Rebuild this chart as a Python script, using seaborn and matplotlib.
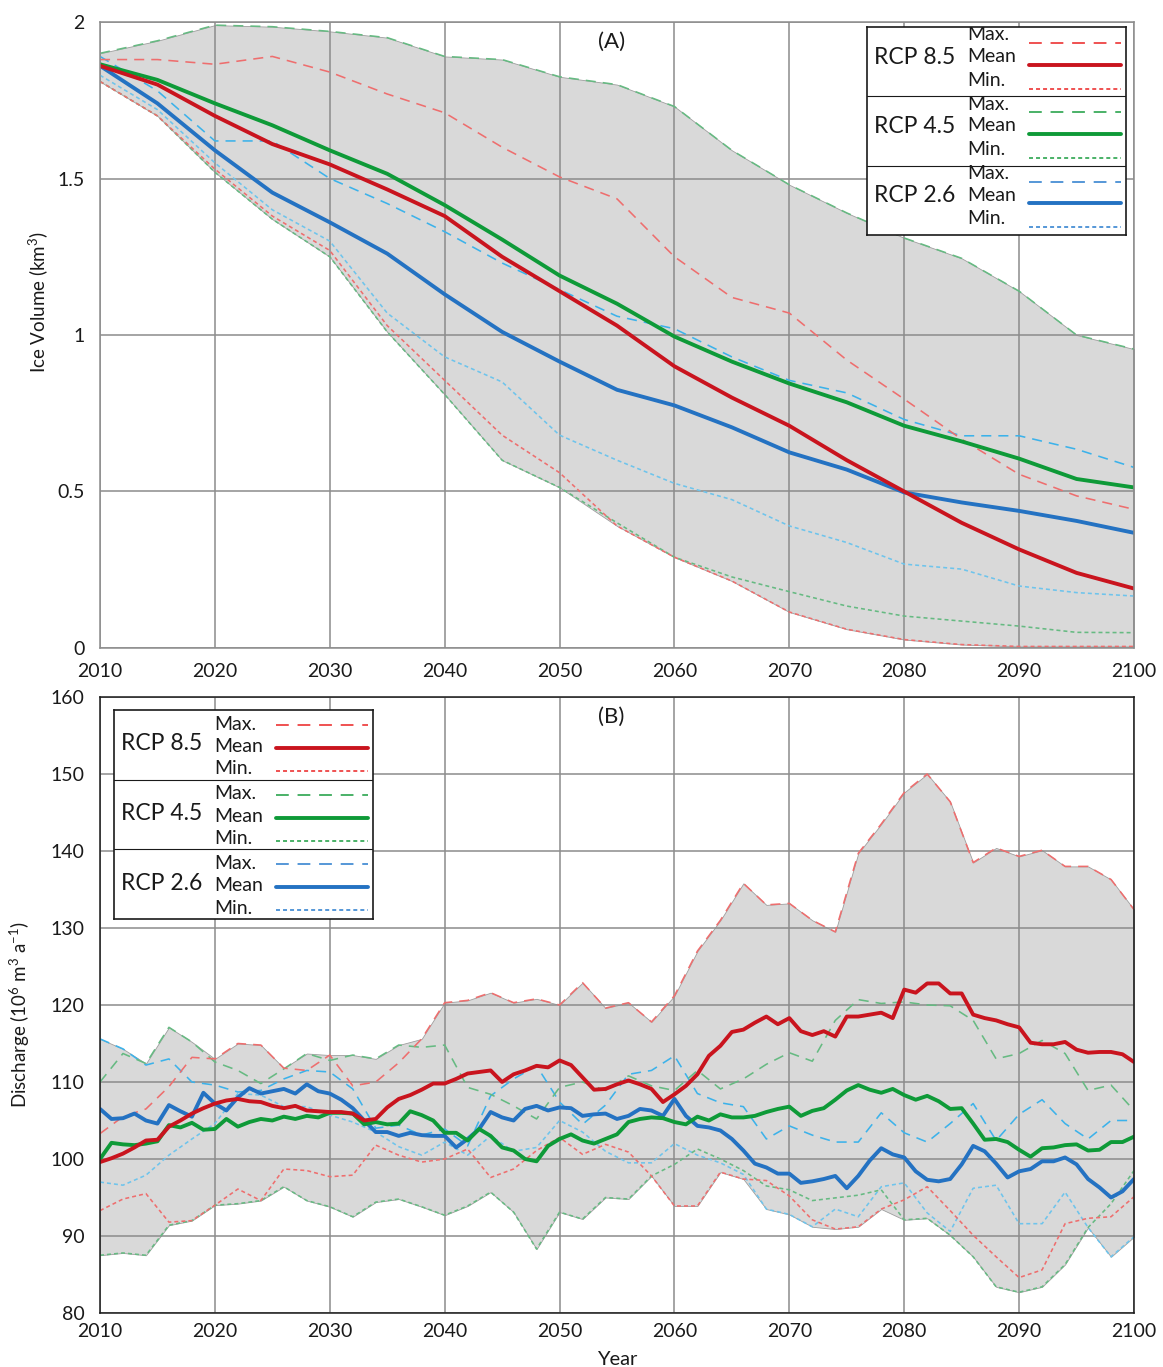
import numpy as np
import pandas as pd
import matplotlib
matplotlib.use("Agg")
import matplotlib.pyplot as plt
import seaborn as sns

sns.set_theme(style="white")
plt.rcParams['font.family'] = ['Lato', 'DejaVu Sans']
plt.rcParams['mathtext.fontset'] = 'custom'
plt.rcParams['mathtext.rm'] = 'Lato'
plt.rcParams['mathtext.it'] = 'Lato:italic'

# ---------------- (A) ice volume, km^3 (5-year steps) ----------------
vol_years = np.arange(2010, 2101, 5)
vol_85_max = [1.88, 1.88, 1.865, 1.89, 1.84, 1.77, 1.71, 1.60, 1.505, 1.435, 1.25, 1.12, 1.07, 0.92, 0.795, 0.667, 0.555, 0.486, 0.443]
vol_85_mean = [1.86, 1.80, 1.70, 1.61, 1.545, 1.465, 1.38, 1.25, 1.14, 1.03, 0.90, 0.80, 0.71, 0.60, 0.50, 0.40, 0.315, 0.24, 0.19]
vol_85_min = [1.81, 1.70, 1.53, 1.38, 1.27, 1.03, 0.855, 0.68, 0.56, 0.39, 0.29, 0.214, 0.115, 0.06, 0.027, 0.011, 0.005, 0.005, 0.005]
vol_45_max = [1.90, 1.94, 1.99, 1.985, 1.97, 1.95, 1.89, 1.88, 1.825, 1.80, 1.73, 1.59, 1.48, 1.39, 1.31, 1.245, 1.14, 1.00, 0.955]
vol_45_mean = [1.865, 1.815, 1.74, 1.67, 1.59, 1.515, 1.415, 1.305, 1.19, 1.10, 0.995, 0.915, 0.845, 0.785, 0.71, 0.66, 0.605, 0.54, 0.513]
vol_45_min = [1.81, 1.70, 1.52, 1.37, 1.25, 1.01, 0.81, 0.60, 0.513, 0.40, 0.29, 0.227, 0.18, 0.134, 0.102, 0.086, 0.07, 0.05, 0.049]
vol_26_max = [1.89, 1.78, 1.62, 1.62, 1.50, 1.42, 1.33, 1.23, 1.145, 1.06, 1.02, 0.93, 0.855, 0.815, 0.73, 0.678, 0.678, 0.635, 0.577]
vol_26_mean = [1.86, 1.74, 1.59, 1.455, 1.36, 1.26, 1.13, 1.01, 0.915, 0.825, 0.775, 0.705, 0.625, 0.57, 0.497, 0.465, 0.438, 0.406, 0.368]
vol_26_min = [1.83, 1.72, 1.55, 1.40, 1.30, 1.07, 0.93, 0.85, 0.68, 0.60, 0.526, 0.474, 0.39, 0.337, 0.268, 0.252, 0.198, 0.177, 0.166]

# ---------------- (B) discharge, 10^6 m^3 a^-1 ----------------
q_years = np.arange(2010, 2101)        # ensemble means, yearly
q_years2 = np.arange(2010, 2101, 2)    # ensemble max / min, every 2 years

q_85_mean = [99.6, 100.1, 100.7, 101.5, 102.4, 102.5, 104.2, 105.0, 105.9, 106.6,
             107.2, 107.6, 107.8, 107.5, 107.4, 106.9, 106.6, 106.9, 106.3, 106.2,
             106.1, 106.1, 105.9, 105.0, 105.2, 106.7, 107.8, 108.3, 109.0, 109.8,
             109.8, 110.4, 111.1, 111.3, 111.5, 110.0, 111.0, 111.5, 112.1, 111.9,
             112.8, 112.2, 110.6, 109.0, 109.1, 109.7, 110.2, 109.7, 109.1, 107.4,
             108.4, 109.5, 111.0, 113.4, 114.7, 116.5, 116.8, 117.7, 118.5, 117.5,
             118.3, 116.6, 116.1, 116.6, 115.9, 118.5, 118.5, 118.75, 119.0, 118.3,
             122.0, 121.6, 122.8, 122.8, 121.5, 121.5, 118.75, 118.3, 118.0, 117.5,
             117.1, 115.1, 114.9, 114.9, 115.2, 114.2, 113.8, 113.9, 113.9, 113.6, 112.6]
q_45_mean = [100.0, 102.1, 101.9, 101.8, 102.0, 102.3, 104.4, 104.1, 104.7, 103.8,
             103.9, 105.2, 104.2, 104.8, 105.2, 105.0, 105.5, 105.2, 105.6, 105.4,
             106.0, 106.0, 105.9, 104.5, 104.8, 104.5, 104.6, 106.2, 105.7, 105.0,
             103.4, 103.4, 102.4, 103.9, 103.0, 101.5, 101.1, 100.0, 99.7, 101.7,
             102.6, 103.2, 102.4, 102.0, 102.6, 103.2, 104.8, 105.2, 105.4, 105.3,
             104.8, 104.5, 105.5, 105.0, 105.8, 105.4, 105.4, 105.6, 106.1, 106.5,
             106.8, 105.6, 106.25, 106.6, 107.7, 108.9, 109.6, 109.0, 108.6, 109.1,
             108.3, 107.7, 108.2, 107.5, 106.5, 106.6, 104.6, 102.5, 102.6, 102.2,
             101.2, 100.3, 101.4, 101.5, 101.8, 101.9, 101.1, 101.2, 102.2, 102.2, 102.9]
q_26_mean = [106.5, 105.2, 105.3, 105.9, 105.0, 104.6, 107.0, 106.2, 105.5, 108.6,
             107.2, 106.3, 108.0, 109.2, 108.5, 108.8, 109.1, 108.5, 109.7, 108.8,
             108.5, 107.7, 106.6, 105.0, 103.5, 103.5, 103.0, 103.4, 103.1, 103.0,
             103.0, 101.5, 102.6, 103.9, 106.1, 105.4, 105.0, 106.5, 106.9, 106.3,
             106.7, 106.6, 105.6, 105.8, 105.9, 105.2, 105.6, 106.5, 106.3, 105.6,
             107.8, 105.6, 104.3, 104.1, 103.7, 102.6, 101.1, 99.4, 98.9, 98.1,
             98.1, 96.9, 97.1, 97.4, 97.8, 96.2, 97.8, 99.8, 101.4, 100.6,
             100.2, 98.4, 97.3, 97.1, 97.4, 99.3, 101.7, 101.0, 99.4, 97.6,
             98.4, 98.7, 99.7, 99.7, 100.2, 99.3, 97.4, 96.3, 95.0, 95.8, 97.4]

q_85_max = [103.3, 105.5, 106.5, 109.4, 113.2, 113.0, 115.0, 114.8, 111.8, 111.5,
            113.5, 109.5, 110.0, 112.5, 115.6, 120.3, 120.6, 121.6, 120.3, 120.8,
            120.0, 122.9, 119.6, 120.3, 117.8, 121.2, 127.0, 131.0, 135.8, 133.0,
            133.2, 131.0, 129.5, 139.7, 143.5, 147.6, 150.0, 146.4, 138.5, 140.4,
            139.3, 140.1, 138.0, 138.0, 136.3, 132.4]
q_85_min = [93.3, 94.8, 95.5, 91.8, 92.0, 94.0, 96.1, 94.6, 98.7, 98.5,
            97.7, 97.9, 101.8, 100.5, 99.6, 100.0, 101.3, 97.6, 98.7, 101.1,
            102.8, 100.6, 101.9, 100.9, 97.8, 93.9, 93.9, 98.3, 97.4, 97.2,
            95.2, 92.1, 90.9, 91.2, 93.5, 94.7, 96.4, 93.3, 90.1, 87.3,
            84.6, 85.6, 91.6, 92.3, 92.5, 95.1]
q_45_max = [110.0, 113.7, 112.4, 117.1, 115.2, 112.6, 111.5, 109.8, 111.7, 113.7,
            112.8, 113.5, 113.0, 114.8, 114.5, 114.8, 109.3, 108.4, 106.9, 105.2,
            109.3, 110.0, 108.9, 110.8, 109.5, 108.9, 111.5, 109.1, 110.4, 112.3,
            113.8, 112.7, 118.0, 120.7, 120.2, 120.4, 120.0, 119.9, 118.0, 113.0,
            113.7, 115.4, 113.7, 108.9, 109.6, 106.3]
q_45_min = [87.5, 87.8, 87.5, 91.4, 92.0, 94.0, 94.2, 94.6, 96.4, 94.6,
            93.8, 92.5, 94.4, 94.8, 93.8, 92.7, 93.9, 95.7, 93.1, 88.3,
            93.1, 92.2, 95.0, 94.8, 97.8, 99.3, 101.3, 100.0, 98.5, 96.5,
            96.0, 94.6, 94.95, 95.3, 96.0, 92.1, 92.3, 90.1, 87.3, 83.4,
            82.7, 83.4, 86.3, 91.1, 94.2, 98.5]
q_26_max = [115.6, 114.3, 112.2, 113.0, 110.0, 109.6, 108.7, 108.9, 110.4, 111.5,
            111.3, 109.1, 104.0, 104.4, 103.1, 103.9, 101.7, 108.2, 110.4, 112.1,
            107.4, 104.5, 107.0, 111.0, 111.5, 113.4, 108.5, 107.3, 106.8, 102.6,
            104.3, 103.1, 102.2, 102.2, 106.0, 103.4, 102.2, 104.6, 107.2, 102.4,
            105.8, 107.7, 104.6, 102.6, 105.0, 105.0]
q_26_min = [97.0, 96.6, 97.9, 100.5, 102.6, 104.6, 108.5, 108.3, 106.8, 106.8,
            105.7, 104.8, 103.5, 101.6, 100.5, 102.2, 100.5, 103.0, 101.0, 101.5,
            105.0, 103.5, 101.0, 99.5, 99.5, 102.0, 100.5, 99.5, 98.0, 93.5,
            92.8, 91.2, 93.5, 92.5, 96.4, 96.9, 93.0, 90.6, 96.2, 96.6,
            91.6, 91.6, 95.7, 91.1, 87.3, 89.9]

scenarios = ["RCP 8.5", "RCP 4.5", "RCP 2.6"]
year_ticks = list(range(2010, 2101, 10))

# ---------------- styles ----------------
MEAN_COL = {"RCP 8.5": "#C9141E", "RCP 4.5": "#0E9A38", "RCP 2.6": "#2472C2"}
MAX_COL = {"RCP 8.5": "#EE6E6E", "RCP 4.5": "#66BA82", "RCP 2.6": "#3CB2EA"}
MIN_COL = {"RCP 8.5": "#EE6E6E", "RCP 4.5": "#66BA82", "RCP 2.6": "#6EC4EC"}
KEY_DASH_COL = {"RCP 8.5": "#EC2A2A", "RCP 4.5": "#22A046", "RCP 2.6": "#2F80CF"}
LW_MEAN, LW_DASH = 2.8, 1.15
DASH_MAX = (6.3, 4.4)
DASH_MIN = (2.5, 1.9)
GRID = "#8C8C8C"
FILL = "#D9D9D9"
TXT = "#1A1A1A"


def long_frame(parts):
    frames = []
    for name, x, y in parts:
        frames.append(pd.DataFrame({"year": x, "value": y, "series": name}))
    return pd.concat(frames, ignore_index=True)


def draw_panel(ax, parts_max, parts_mean, parts_min, x_max, x_mean):
    parts = []
    for sc in scenarios[::-1]:
        parts.append((f"{sc} Max.", x_max, parts_max[sc]))
        parts.append((f"{sc} Min.", x_max, parts_min[sc]))
    for sc in scenarios[::-1]:
        parts.append((f"{sc} Mean", x_mean, parts_mean[sc]))
    df = long_frame(parts)
    order = [p[0] for p in parts]
    pal, dashes, sizes = {}, {}, {}
    for sc in scenarios:
        pal[f"{sc} Max."] = MAX_COL[sc]
        pal[f"{sc} Min."] = MIN_COL[sc]
        pal[f"{sc} Mean"] = MEAN_COL[sc]
        dashes[f"{sc} Max."] = DASH_MAX
        dashes[f"{sc} Min."] = DASH_MIN
        dashes[f"{sc} Mean"] = ""
        sizes[f"{sc} Max."] = LW_DASH
        sizes[f"{sc} Min."] = LW_DASH
        sizes[f"{sc} Mean"] = LW_MEAN

    # grey band spanning the whole ensemble range
    upper = np.max(np.array([parts_max[sc] for sc in scenarios]), axis=0)
    lower = np.min(np.array([parts_min[sc] for sc in scenarios]), axis=0)
    ax.fill_between(x_max, lower, upper, facecolor=FILL, edgecolor="#9E9E9E",
                    linewidth=0.6, zorder=0.2)

    sns.lineplot(data=df, x="year", y="value", hue="series", style="series",
                 size="series", hue_order=order, style_order=order,
                 size_order=order, palette=pal, dashes=dashes, sizes=sizes,
                 legend=False, errorbar=None, ax=ax,
                 solid_capstyle="round", dash_capstyle="butt")


def style_axes(ax, ylim, yticks, ylabels, spine_col, xpad):
    ax.set_xlim(2010, 2100)
    ax.set_ylim(*ylim)
    ax.set_xticks(year_ticks)
    ax.set_xticklabels([str(y) for y in year_ticks])
    ax.set_yticks(yticks)
    ax.set_yticklabels(ylabels)
    ax.set_axisbelow(True)
    ax.grid(True, color=GRID, linewidth=1.1)
    for s in ax.spines.values():
        s.set_color(spine_col)
        s.set_linewidth(1.1)
        s.set_visible(True)
    ax.tick_params(axis="both", which="major", direction="out", length=5,
                   width=1.1, color=GRID, labelsize=14, labelcolor=TXT)
    ax.tick_params(axis="y", pad=6)
    ax.tick_params(axis="x", pad=xpad)
    ax.set_xlabel("")
    ax.set_ylabel("")


def draw_key(fig, left, top, w, h, txt_off, line_off, rcp_off):
    W, H = 1163, 1367
    kax = fig.add_axes([left / W, 1 - (top + h) / H, w / W, h / H], zorder=5)
    kax.set_xlim(0, w)
    kax.set_ylim(h, 0)
    kax.set_facecolor("white")
    kax.set_xticks([])
    kax.set_yticks([])
    for s in kax.spines.values():
        s.set_color("#1A1A1A")
        s.set_linewidth(1.2)
    row_h = h / 3.0
    for k, sc in enumerate(scenarios):
        y0 = k * row_h
        kax.text(7, y0 + rcp_off, sc, fontsize=16.5, color=TXT,
                 ha="left", va="center", clip_on=True)
        for lab, dy in zip(["Max.", "Mean", "Min."], txt_off):
            kax.text(100, y0 + dy, lab, fontsize=14, color=TXT,
                     ha="left", va="center", clip_on=True)
        kax.plot([162, 254], [y0 + line_off[0]] * 2, color=KEY_DASH_COL[sc],
                 lw=LW_DASH, dashes=(8.0, 5.5))
        kax.plot([162, 254], [y0 + line_off[1]] * 2, color=MEAN_COL[sc],
                 lw=LW_MEAN, solid_capstyle="round")
        kax.plot([162, 254], [y0 + line_off[2]] * 2, color=KEY_DASH_COL[sc],
                 lw=LW_DASH, dashes=DASH_MIN)
        if k > 0:
            kax.axhline(y0, color="#1A1A1A", lw=0.8)


fig = plt.figure(figsize=(11.63, 13.67), dpi=100)
W, H = 1163, 1367
axA = fig.add_axes([100 / W, 1 - 648 / H, 1034 / W, 626 / H])
axB = fig.add_axes([100 / W, 1 - 1313 / H, 1034 / W, 616 / H])

# (A) ice volume
draw_panel(axA,
           {"RCP 8.5": vol_85_max, "RCP 4.5": vol_45_max, "RCP 2.6": vol_26_max},
           {"RCP 8.5": vol_85_mean, "RCP 4.5": vol_45_mean, "RCP 2.6": vol_26_mean},
           {"RCP 8.5": vol_85_min, "RCP 4.5": vol_45_min, "RCP 2.6": vol_26_min},
           vol_years, vol_years)
style_axes(axA, (0, 2), [0, 0.5, 1, 1.5, 2], ["0", "0.5", "1", "1.5", "2"], GRID, 6)
axA.text(0.495, 0.968, "(A)", transform=axA.transAxes, fontsize=16, color=TXT,
         ha="center", va="center")
axA.set_ylabel("Ice Volume (km$^{3}$)", fontsize=13.5, color=TXT)
axA.yaxis.set_label_coords(-0.060, 0.553)
axA.yaxis.label.set_va("center")

# (B) discharge
draw_panel(axB,
           {"RCP 8.5": q_85_max, "RCP 4.5": q_45_max, "RCP 2.6": q_26_max},
           {"RCP 8.5": q_85_mean, "RCP 4.5": q_45_mean, "RCP 2.6": q_26_mean},
           {"RCP 8.5": q_85_min, "RCP 4.5": q_45_min, "RCP 2.6": q_26_min},
           q_years2, q_years)
style_axes(axB, (80, 160), list(range(80, 161, 10)),
           [str(v) for v in range(80, 161, 10)], "#1A1A1A", 2)
axB.text(0.494, 0.9675, "(B)", transform=axB.transAxes, fontsize=16, color=TXT,
         ha="center", va="center")
axB.set_ylabel("Discharge (10$^{6}$ m$^{3}$ a$^{-1}$)", fontsize=13.5, color=TXT)
axB.yaxis.set_label_coords(-0.077, 0.485)
axB.yaxis.label.set_va("center")
axB.set_xlabel("Year", fontsize=14.5, color=TXT, labelpad=8)

# keys
draw_key(fig, 867, 27, 259, 208, (8, 29.5, 53), (16, 37.6, 61.5), 30)
draw_key(fig, 114, 710, 259, 209, (14, 36.6, 59), (15, 38, 61), 34)

fig.savefig("out.png", dpi=100)
